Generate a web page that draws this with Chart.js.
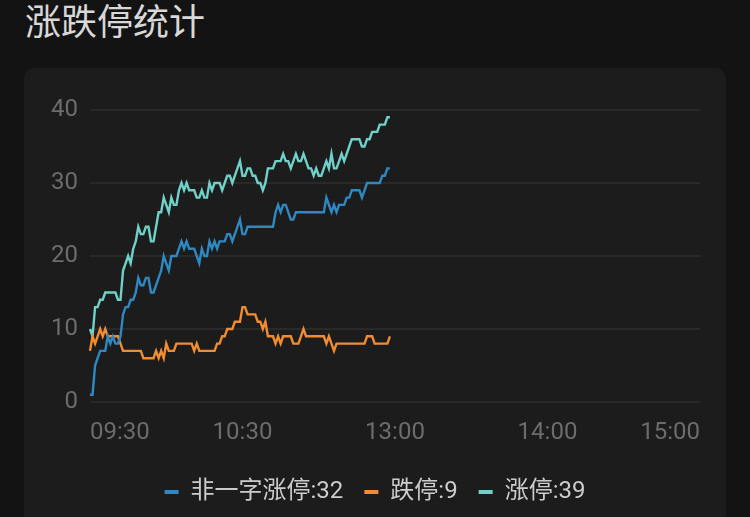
<!DOCTYPE html>
<html>
<head>
<meta charset="utf-8">
<script src="https://cdn.jsdelivr.net/npm/chart.js@4"></script>
<style>
  html, body { margin: 0; padding: 0; background: #131313; width: 750px; height: 517px; overflow: hidden; }
  #title { position: absolute; left: 25px; top: 0px; line-height: 38px; font-size: 36px; color: #d8d8d8;
           font-family: "Noto Sans CJK SC", sans-serif; }
  #card { position: absolute; left: 24px; top: 68px; width: 702px; height: 470px; background: #1c1c1c; border-radius: 10px; }
  #chart { display: block; }
</style>
</head>
<body>
<div id="title">涨跌停统计</div>
<div id="card"><canvas id="chart" width="702" height="449"></canvas></div>
<script>
// series names shown in the legend
const seriesNames = ['非一字涨停', '跌停', '涨停'];
const seriesColors = ['#2f88c2', '#f28c30', '#6fd1c8'];

// one value per minute from 09:30
const nonOneLimitUp = [
  1, 1, 5, 6, 7, 7, 7, 9, 8, 9, 8, 8, 9, 12, 13, 13, 14, 14, 15, 17,
  16, 16, 17, 17, 15, 15, 16, 17, 18, 20, 19, 18, 20, 20, 20, 21, 22, 21, 22, 21,
  21, 21, 20, 19, 21, 20, 20, 22, 21, 22, 21, 22, 22, 22, 23, 23, 22, 23, 24, 25,
  23, 23, 24, 24, 24, 24, 24, 24, 24, 24, 24, 24, 24, 26, 27, 26, 27, 27, 26, 25,
  25, 26, 26, 26, 26, 26, 26, 26, 26, 26, 26, 26, 26, 28, 27, 26, 27, 26, 27, 27,
  27, 28, 28, 29, 29, 29, 29, 28, 29, 30, 30, 30, 30, 30, 30, 31, 31, 32, 32
];
const limitDown = [
  7, 9, 8, 9, 10, 9, 10, 9, 9, 9, 9, 9, 8, 7, 7, 7, 7, 7, 7, 7,
  7, 6, 6, 6, 6, 6, 7, 6, 7, 6, 8, 7, 7, 7, 8, 8, 8, 8, 8, 8,
  8, 7, 8, 7, 7, 7, 7, 7, 7, 7, 8, 8, 9, 9, 10, 10, 10, 11, 11, 11,
  13, 13, 12, 12, 12, 12, 11, 11, 10, 11, 9, 9, 9, 8, 9, 8, 9, 9, 9, 9,
  8, 8, 8, 9, 10, 9, 9, 9, 9, 9, 9, 9, 9, 8, 9, 8, 7, 8, 8, 8,
  8, 8, 8, 8, 8, 8, 8, 8, 8, 9, 9, 9, 8, 8, 8, 8, 8, 8, 9
];
const limitUp = [
  10, 9, 13, 13, 14, 14, 15, 15, 15, 15, 15, 14, 14, 18, 19, 20, 19, 21, 22, 24,
  23, 23, 24, 24, 22, 22, 24, 26, 26, 28, 27, 26, 28, 27, 27, 29, 30, 29, 30, 29,
  29, 29, 28, 28, 29, 28, 28, 30, 29, 30, 30, 30, 29, 30, 31, 31, 30, 31, 32, 33,
  31, 31, 32, 32, 31, 31, 30, 30, 29, 30, 32, 32, 32, 33, 33, 33, 34, 33, 33, 32,
  33, 34, 33, 33, 34, 33, 32, 32, 31, 32, 31, 31, 32, 33, 32, 34, 32, 32, 33, 34,
  33, 34, 35, 36, 36, 36, 36, 35, 35, 36, 36, 37, 37, 37, 38, 38, 38, 39, 39
];

const tickLabels = ['09:30', '10:30', '13:00', '14:00', '15:00'];

// trading minutes: 09:30-11:29, then 13:00-15:00
const timeLabels = [];
for (let m = 0; m <= 240; m++) {
  let t = m < 120 ? 9 * 60 + 30 + m : 13 * 60 + (m - 120);
  let hh = String(Math.floor(t / 60)).padStart(2, '0');
  let mm = String(t % 60).padStart(2, '0');
  timeLabels.push(hh + ':' + mm);
}

const seriesData = [nonOneLimitUp, limitDown, limitUp];

Chart.defaults.font.family = "Roboto, 'Noto Sans CJK SC', sans-serif";

let ctx = document.getElementById('chart').getContext('2d');

let chart = new Chart(ctx, {
  type: 'line',
  data: {
    labels: timeLabels,
    datasets: seriesData.map((vals, i) => ({
      label: seriesNames[i] + ':' + vals[vals.length - 1],
      data: vals,
      borderColor: seriesColors[i],
      backgroundColor: seriesColors[i],
      borderWidth: 2.4,
      pointRadius: 0,
      tension: 0,
      fill: false,
    }))
  },
  options: {
    responsive: false,
    animation: false,
    layout: {
      padding: { top: 42, right: 26, bottom: 3, left: 26 }
    },
    plugins: {
      tooltip: { enabled: false },
      legend: {
        position: 'bottom',
        labels: {
          color: '#cccccc',
          font: { size: 24 },
          boxWidth: 14,
          boxHeight: 4,
          padding: 21,
          generateLabels(chart) {
            return chart.data.datasets.map((ds, i) => ({
              text: ds.label,
              fillStyle: ds.borderColor,
              strokeStyle: ds.borderColor,
              lineWidth: 0,
              fontColor: '#cccccc',
              datasetIndex: i,
              hidden: false,
            }));
          }
        }
      }
    },
    scales: {
      x: {
        type: 'category',
        grid: { display: false, drawTicks: false },
        border: { display: false },
        ticks: {
          autoSkip: false,
          maxRotation: 0,
          minRotation: 0,
          align: 'inner',
          padding: 17,
          color: '#6c6c6c',
          font: { size: 24 },
          callback(value) {
            let lab = this.getLabelForValue(value);
            return tickLabels.includes(lab) ? lab : '';
          }
        },
        afterFit(scale) { scale.height = 57; }
      },
      y: {
        min: 0,
        max: 40,
        grid: { color: '#292929', lineWidth: 2, drawTicks: false },
        border: { display: false },
        ticks: {
          stepSize: 10,
          padding: 12,
          color: '#6c6c6c',
          font: { size: 24 }
        },
        afterFit(scale) { scale.width = 40; }
      }
    }
  }
});
</script>
</body>
</html>
